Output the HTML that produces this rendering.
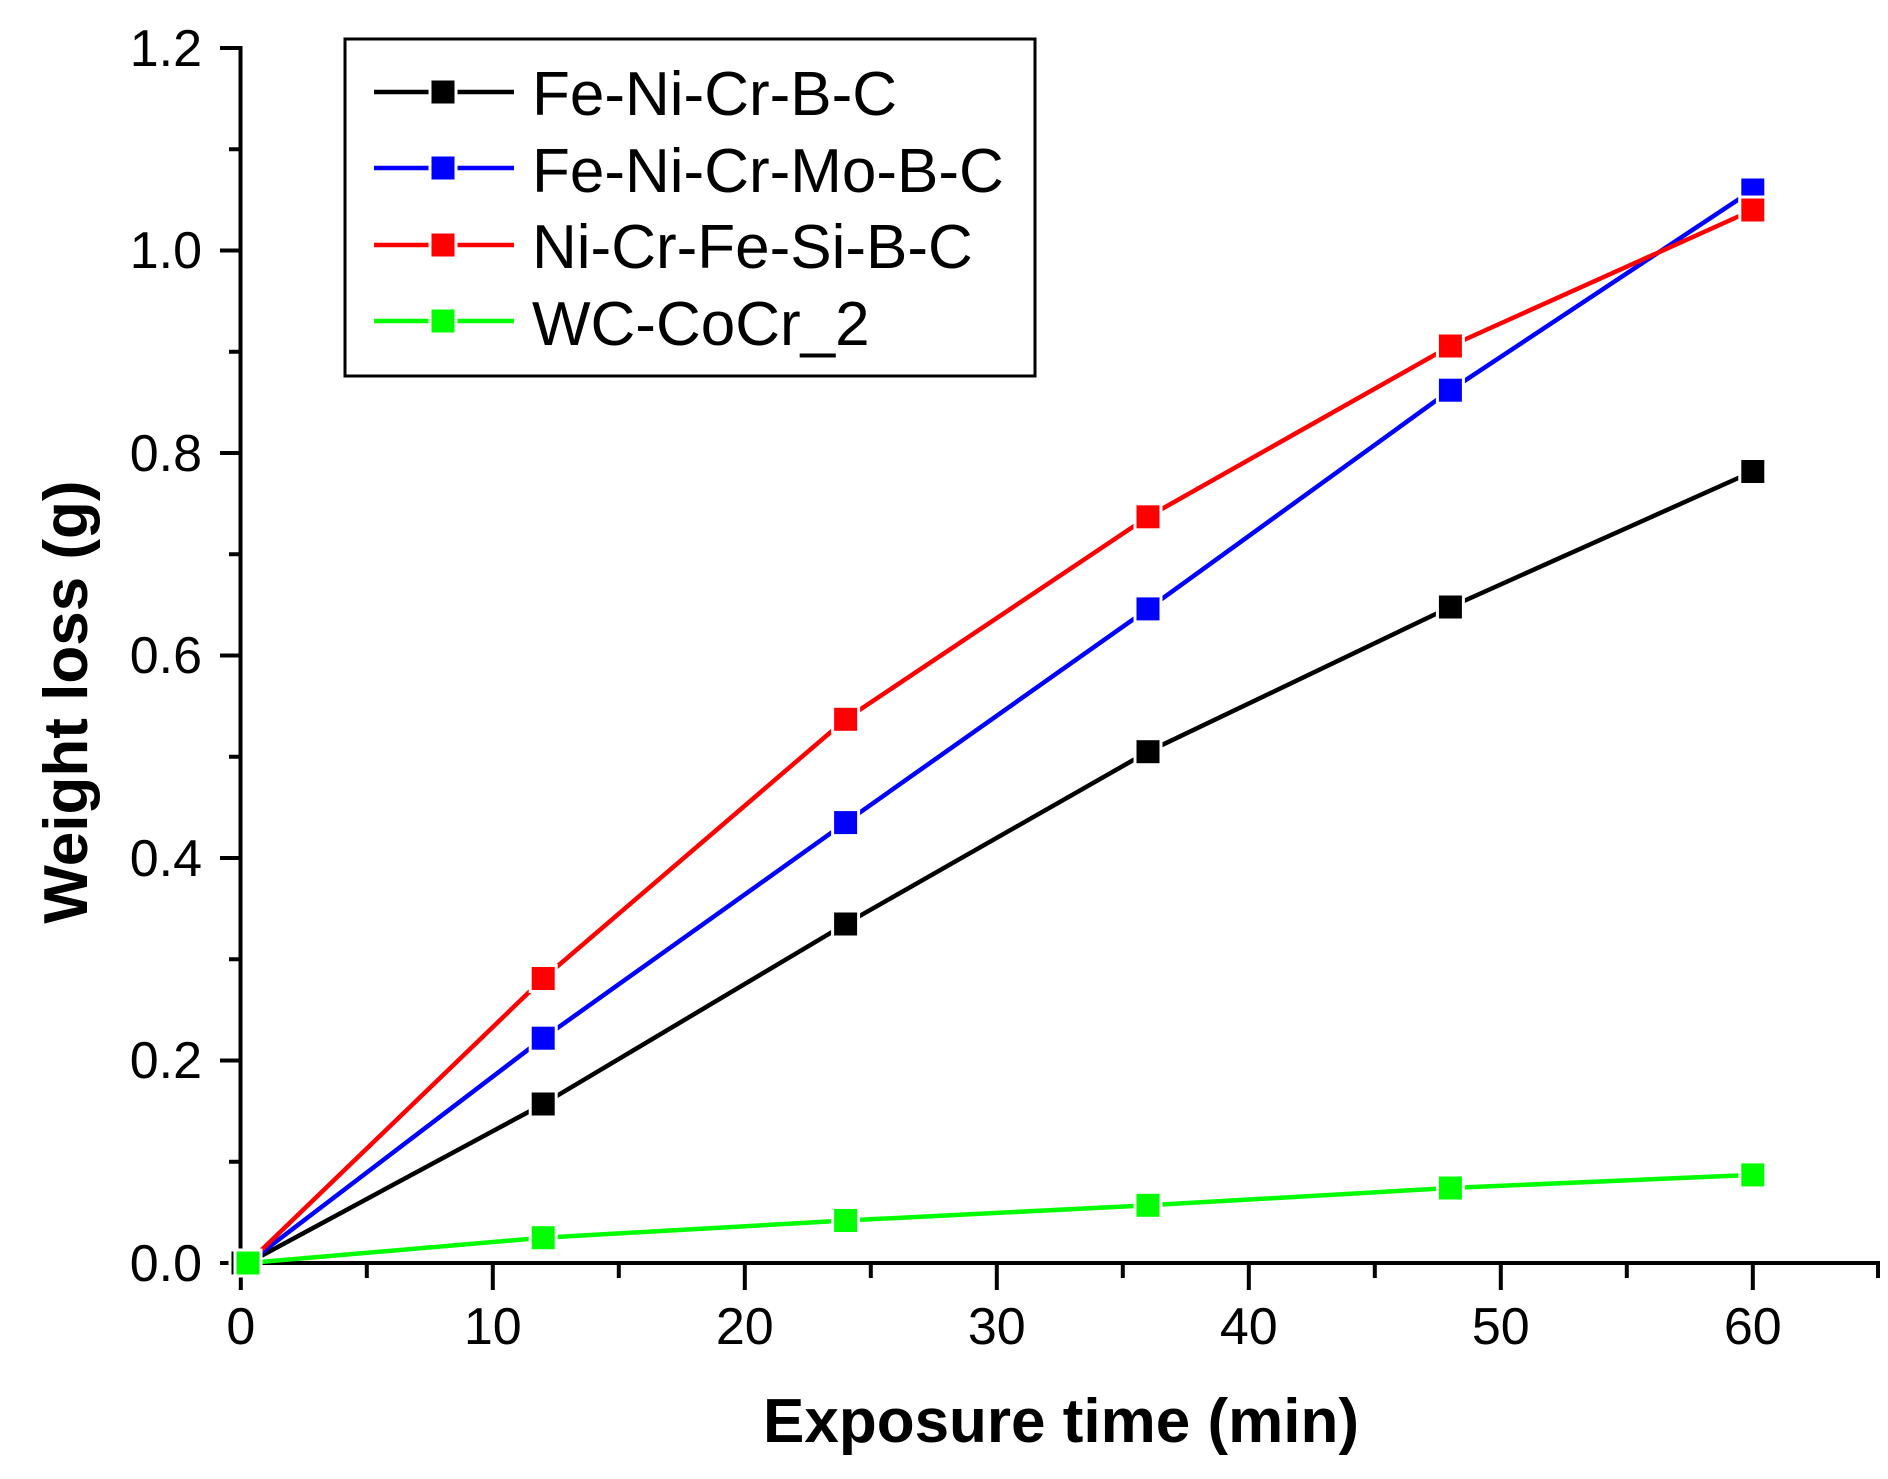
<!DOCTYPE html>
<html><head><style>html,body{margin:0;padding:0;background:#fff}svg{display:block}</style></head>
<body>
<svg width="1888" height="1479" viewBox="0 0 1888 1479" xmlns="http://www.w3.org/2000/svg" font-family="Liberation Sans, Arial, sans-serif">
<rect width="1888" height="1479" fill="#fff"/>
<g stroke="#000" stroke-width="4" fill="none">
<line x1="240.5" y1="46" x2="240.5" y2="1265"/>
<line x1="240" y1="1263" x2="1880" y2="1263"/>
<line x1="220" y1="1263" x2="240" y2="1263"/>
<line x1="220" y1="1060.5" x2="240" y2="1060.5"/>
<line x1="220" y1="858" x2="240" y2="858"/>
<line x1="220" y1="655.5" x2="240" y2="655.5"/>
<line x1="220" y1="453" x2="240" y2="453"/>
<line x1="220" y1="250.5" x2="240" y2="250.5"/>
<line x1="220" y1="48" x2="240" y2="48"/>
<line x1="229" y1="1161.75" x2="240" y2="1161.75"/>
<line x1="229" y1="959.25" x2="240" y2="959.25"/>
<line x1="229" y1="756.75" x2="240" y2="756.75"/>
<line x1="229" y1="554.25" x2="240" y2="554.25"/>
<line x1="229" y1="351.75" x2="240" y2="351.75"/>
<line x1="229" y1="149.25" x2="240" y2="149.25"/>
<line x1="240.8" y1="1263" x2="240.8" y2="1290"/>
<line x1="492.8" y1="1263" x2="492.8" y2="1290"/>
<line x1="744.8" y1="1263" x2="744.8" y2="1290"/>
<line x1="996.8" y1="1263" x2="996.8" y2="1290"/>
<line x1="1248.8" y1="1263" x2="1248.8" y2="1290"/>
<line x1="1500.8" y1="1263" x2="1500.8" y2="1290"/>
<line x1="1752.8" y1="1263" x2="1752.8" y2="1290"/>
<line x1="366.8" y1="1263" x2="366.8" y2="1278"/>
<line x1="618.8" y1="1263" x2="618.8" y2="1278"/>
<line x1="870.8" y1="1263" x2="870.8" y2="1278"/>
<line x1="1122.8" y1="1263" x2="1122.8" y2="1278"/>
<line x1="1374.8" y1="1263" x2="1374.8" y2="1278"/>
<line x1="1626.8" y1="1263" x2="1626.8" y2="1278"/>
<line x1="1878" y1="1263" x2="1878" y2="1278"/>
</g>
<g font-size="52" fill="#000" text-anchor="end">
<text x="202" y="1281">0.0</text>
<text x="202" y="1078">0.2</text>
<text x="202" y="876">0.4</text>
<text x="202" y="673">0.6</text>
<text x="202" y="471">0.8</text>
<text x="202" y="268">1.0</text>
<text x="202" y="66">1.2</text>
</g>
<g font-size="52" fill="#000" text-anchor="middle">
<text x="240.8" y="1344">0</text>
<text x="492.8" y="1344">10</text>
<text x="744.8" y="1344">20</text>
<text x="996.8" y="1344">30</text>
<text x="1248.8" y="1344">40</text>
<text x="1500.8" y="1344">50</text>
<text x="1752.8" y="1344">60</text>
</g>
<text x="1061" y="1442" font-size="62" font-weight="bold" text-anchor="middle">Exposure time (min)</text>
<text transform="translate(87,702) rotate(-90)" font-size="62" font-weight="bold" text-anchor="middle">Weight loss (g)</text>
<g fill="none" stroke-width="4.5" stroke-linejoin="round">
<polyline stroke="#000" points="248,1263 543.2,1104 845.6,924 1148,751.7 1450.4,607 1752.8,471.5"/>
<polyline stroke="#0000ff" points="248,1263 543.2,1038.2 845.6,822.6 1148,608.9 1450.4,390.2 1752.8,190"/>
<polyline stroke="#ff0000" points="248,1263 543.2,978.5 845.6,719.3 1148,516.8 1450.4,346 1752.8,210"/>
<polyline stroke="#00ff00" points="248,1263 543.2,1237.7 845.6,1220.5 1148,1205.3 1450.4,1188 1752.8,1174.9"/>
</g>
<g stroke="#fff" stroke-width="3">
<g fill="#000">
<rect x="230" y="1250" width="26" height="26"/><rect x="530.2" y="1091" width="26" height="26"/><rect x="832.6" y="911" width="26" height="26"/><rect x="1135" y="738.7" width="26" height="26"/><rect x="1437.4" y="594" width="26" height="26"/><rect x="1739.8" y="458.5" width="26" height="26"/>
</g>
<g fill="#0000ff">
<rect x="530.2" y="1025.2" width="26" height="26"/><rect x="832.6" y="809.6" width="26" height="26"/><rect x="1135" y="595.9" width="26" height="26"/><rect x="1437.4" y="377.2" width="26" height="26"/><rect x="1739.8" y="177" width="26" height="26"/>
</g>
<g fill="#ff0000">
<rect x="530.2" y="965.5" width="26" height="26"/><rect x="832.6" y="706.3" width="26" height="26"/><rect x="1135" y="503.8" width="26" height="26"/><rect x="1437.4" y="333" width="26" height="26"/><rect x="1739.8" y="197" width="26" height="26"/>
</g>
<g fill="#00ff00">
<rect x="235" y="1250" width="26" height="26"/><rect x="530.2" y="1224.7" width="26" height="26"/><rect x="832.6" y="1207.5" width="26" height="26"/><rect x="1135" y="1192.3" width="26" height="26"/><rect x="1437.4" y="1175" width="26" height="26"/><rect x="1739.8" y="1161.9" width="26" height="26"/>
</g>
</g>
<rect x="345" y="39" width="690" height="337" fill="#fff" stroke="#000" stroke-width="3"/>
<g stroke-width="4.5">
<line x1="374" y1="92" x2="514" y2="92" stroke="#000"/>
<line x1="374" y1="168" x2="514" y2="168" stroke="#0000ff"/>
<line x1="374" y1="245" x2="514" y2="245" stroke="#ff0000"/>
<line x1="374" y1="321" x2="514" y2="321" stroke="#00ff00"/>
</g>
<g stroke="#fff" stroke-width="3">
<rect x="430" y="79" width="26" height="26" fill="#000"/>
<rect x="430" y="155" width="26" height="26" fill="#0000ff"/>
<rect x="430" y="232" width="26" height="26" fill="#ff0000"/>
<rect x="430" y="308" width="26" height="26" fill="#00ff00"/>
</g>
<g font-size="62" fill="#000">
<text x="532" y="115">Fe-Ni-Cr-B-C</text>
<text x="532" y="192">Fe-Ni-Cr-Mo-B-C</text>
<text x="532" y="268">Ni-Cr-Fe-Si-B-C</text>
<text x="532" y="345">WC-CoCr_2</text>
</g>
</svg>
</body></html>
